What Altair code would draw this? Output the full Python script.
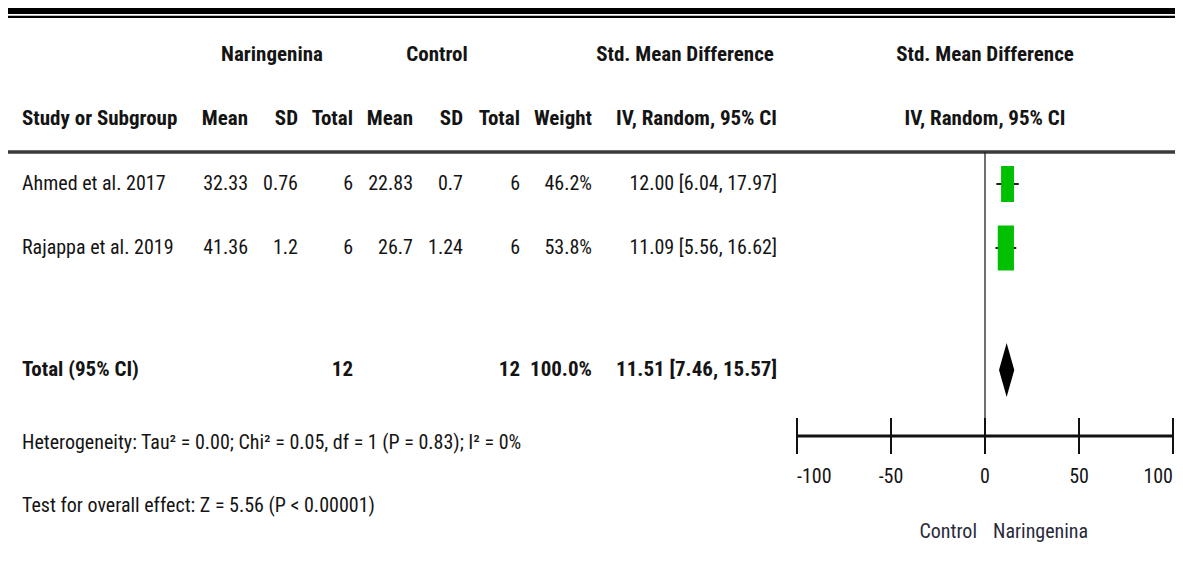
import altair as alt
import pandas as pd

# ---------------- data ----------------
studies = ["Ahmed et al. 2017", "Rajappa et al. 2019"]
nar_mean = [32.33, 41.36]
nar_sd = [0.76, 1.2]
nar_n = [6, 6]
ctl_mean = [22.83, 26.7]
ctl_sd = [0.7, 1.24]
ctl_n = [6, 6]
weights = [46.2, 53.8]
smd = [12.00, 11.09]
ci_low = [6.04, 5.56]
ci_high = [17.97, 16.62]

total_label = "Total (95% CI)"
total_nar_n = 12
total_ctl_n = 12
total_weight = 100.0
total_smd = 11.51
total_low = 7.46
total_high = 15.57

heterogeneity = "Heterogeneity: Tau\u00b2 = 0.00; Chi\u00b2 = 0.05, df = 1 (P = 0.83); I\u00b2 = 0%"
overall = "Test for overall effect: Z = 5.56 (P < 0.00001)"

group_headers = ["Naringenina", "Control", "Std. Mean Difference", "Std. Mean Difference"]
col_headers = ["Study or Subgroup", "Mean", "SD", "Total", "Mean", "SD", "Total", "Weight",
               "IV, Random, 95% CI", "IV, Random, 95% CI"]
axis_ticks = [-100, -50, 0, 50, 100]
favours = ["Control", "Naringenina"]

# ---------------- layout ----------------
W, H = 1167, 545
FONT = "Roboto Condensed, DejaVu Sans Condensed, sans-serif"
FS = 20
FSB = 21
INK = "#141414"

COL = {"study": 14, "n_mean": 240, "n_sd": 290, "n_tot": 345, "c_mean": 405,
       "c_sd": 455, "c_tot": 512, "weight": 584, "ci": 769,
       "g_nar": 264, "g_ctl": 429, "g_smd": 677, "plot_mid": 977}
ROW = {"h1": 47, "h2": 111, "studies": [176, 240], "total": 362, "het": 435, "test": 498}
LINES = {"bar": 2, "thin": 8.8, "header": 144}
FOREST = {"range": [789, 1165], "top": 144, "axis": 428, "tick_half": 18,
          "labels": 469, "fav": 524, "diamond_half": 27}

XPIX = alt.Scale(domain=[0, W], range=[0, W], nice=False, zero=False)
YPIX = alt.Scale(domain=[0, H], range=[0, H], nice=False, zero=False)
XSMD = alt.Scale(domain=[axis_ticks[0], axis_ticks[-1]], range=FOREST["range"], nice=False, zero=False)

# ---------------- text cells ----------------
cells = []  # (text, x, y, align, bold)
hdr_pos = [COL["g_nar"], COL["g_ctl"], COL["g_smd"], COL["plot_mid"]]
for t, x in zip(group_headers, hdr_pos):
    cells.append((t, x, ROW["h1"], "center", True))

col_pos = [("study", "left"), ("n_mean", "right"), ("n_sd", "right"), ("n_tot", "right"),
           ("c_mean", "right"), ("c_sd", "right"), ("c_tot", "right"), ("weight", "right"),
           ("ci", "right"), ("plot_mid", "center")]
for t, (k, a) in zip(col_headers, col_pos):
    cells.append((t, COL[k], ROW["h2"], a, True))

for i, s in enumerate(studies):
    y = ROW["studies"][i]
    vals = [(s, "study", "left"), (str(nar_mean[i]), "n_mean", "right"), (str(nar_sd[i]), "n_sd", "right"),
            (str(nar_n[i]), "n_tot", "right"), (str(ctl_mean[i]), "c_mean", "right"),
            (str(ctl_sd[i]), "c_sd", "right"), (str(ctl_n[i]), "c_tot", "right"),
            (f"{weights[i]:.1f}%", "weight", "right"),
            (f"{smd[i]:.2f} [{ci_low[i]:.2f}, {ci_high[i]:.2f}]", "ci", "right")]
    for t, k, a in vals:
        cells.append((t, COL[k], y, a, False))

tot = [(total_label, "study", "left"), (str(total_nar_n), "n_tot", "right"),
       (str(total_ctl_n), "c_tot", "right"), (f"{total_weight:.1f}%", "weight", "right"),
       (f"{total_smd:.2f} [{total_low:.2f}, {total_high:.2f}]", "ci", "right")]
for t, k, a in tot:
    cells.append((t, COL[k], ROW["total"], a, True))

cells.append((heterogeneity, COL["study"], ROW["het"], "left", False))
cells.append((overall, COL["study"], ROW["test"], "left", False))

cells_df = pd.DataFrame(cells, columns=["t", "x", "y", "align", "bold"])


def text_layer(df, align, bold):
    return alt.Chart(df).mark_text(
        align=align, baseline="middle", font=FONT, fontSize=FSB if bold else FS,
        fontWeight="bold" if bold else "normal", color=INK
    ).encode(
        x=alt.X("x:Q", scale=XPIX, axis=None),
        y=alt.Y("y:Q", scale=YPIX, axis=None),
        text="t:N",
    )


layers = []

# table rules
rules_df = pd.DataFrame([
    {"x": 0, "x2": W, "y": LINES["bar"], "w": 8, "c": "#000000"},
    {"x": 0, "x2": W, "y": LINES["thin"], "w": 2.2, "c": "#000000"},
    {"x": 0, "x2": W, "y": LINES["header"], "w": 3.5, "c": "#3a3a3a"},
])
layers.append(
    alt.Chart(rules_df).mark_rule().encode(
        x=alt.X("x:Q", scale=XPIX, axis=None), x2="x2:Q",
        y=alt.Y("y:Q", scale=YPIX, axis=None),
        size=alt.Size("w:Q", scale=None, legend=None),
        color=alt.Color("c:N", scale=None, legend=None),
    )
)

for (al, bd), grp in cells_df.groupby(["align", "bold"]):
    layers.append(text_layer(grp[["t", "x", "y"]].reset_index(drop=True), al, bool(bd)))

# ---------------- forest plot ----------------
zero_df = pd.DataFrame({"x": [0], "y": [FOREST["top"]], "y2": [FOREST["axis"]]})
layers.append(alt.Chart(zero_df).mark_rule(color="#222", strokeWidth=1.3).encode(
    x=alt.X("x:Q", scale=XSMD, axis=None),
    y=alt.Y("y:Q", scale=YPIX, axis=None), y2="y2:Q"))

axis_df = pd.DataFrame({"x": [axis_ticks[0]], "x2": [axis_ticks[-1]], "y": [FOREST["axis"]]})
layers.append(alt.Chart(axis_df).mark_rule(color="#111", strokeWidth=3).encode(
    x=alt.X("x:Q", scale=XSMD, axis=None), x2="x2:Q",
    y=alt.Y("y:Q", scale=YPIX, axis=None)))

ticks_df = pd.DataFrame({"x": axis_ticks,
                         "y": [FOREST["axis"] - FOREST["tick_half"]] * len(axis_ticks),
                         "y2": [FOREST["axis"] + FOREST["tick_half"]] * len(axis_ticks),
                         "lab": [str(v) for v in axis_ticks],
                         "ly": [FOREST["labels"]] * len(axis_ticks)})
layers.append(alt.Chart(ticks_df).mark_rule(color="#111", strokeWidth=2).encode(
    x=alt.X("x:Q", scale=XSMD, axis=None),
    y=alt.Y("y:Q", scale=YPIX, axis=None), y2="y2:Q"))

# tick labels: outermost ones kept inside the axis span, inner ones centred
n_t = len(axis_ticks)
for sub, al in [(ticks_df.iloc[[0]], "left"), (ticks_df.iloc[1:n_t - 1], "center"),
                (ticks_df.iloc[[n_t - 1]], "right")]:
    layers.append(alt.Chart(sub.reset_index(drop=True)).mark_text(
        align=al, baseline="middle", font=FONT, fontSize=FS, color=INK).encode(
        x=alt.X("x:Q", scale=XSMD, axis=None),
        y=alt.Y("ly:Q", scale=YPIX, axis=None), text="lab:N"))

fav_df = pd.DataFrame({"x": [0], "y": [FOREST["fav"]], "l": [favours[0]], "r": [favours[1]]})
layers.append(alt.Chart(fav_df).mark_text(
    align="right", baseline="middle", font=FONT, fontSize=FS, color="#2a2a3a", dx=-8).encode(
    x=alt.X("x:Q", scale=XSMD, axis=None),
    y=alt.Y("y:Q", scale=YPIX, axis=None), text="l:N"))
layers.append(alt.Chart(fav_df).mark_text(
    align="left", baseline="middle", font=FONT, fontSize=FS, color="#2a2a3a", dx=8).encode(
    x=alt.X("x:Q", scale=XSMD, axis=None),
    y=alt.Y("y:Q", scale=YPIX, axis=None), text="r:N"))

st_df = pd.DataFrame({"study": studies, "smd": smd, "lo": ci_low, "hi": ci_high,
                      "w": weights, "y": ROW["studies"]})
layers.append(alt.Chart(st_df).mark_rule(color="#222", strokeWidth=2).encode(
    x=alt.X("lo:Q", scale=XSMD, axis=None), x2="hi:Q",
    y=alt.Y("y:Q", scale=YPIX, axis=None)))
layers.append(alt.Chart(st_df).mark_point(
    shape="M-0.36,-1H0.36V1H-0.36Z", filled=True, opacity=1, color="#00c000", strokeWidth=0).encode(
    x=alt.X("smd:Q", scale=XSMD, axis=None),
    y=alt.Y("y:Q", scale=YPIX, axis=None),
    size=alt.Size("w:Q", scale=alt.Scale(domain=[min(weights), max(weights)], range=[1296, 2025]),
                  legend=None)))

dh = FOREST["diamond_half"]
c = ROW["total"]
dia_df = pd.DataFrame({"x": [total_low, total_smd, total_high],
                       "y": [c, c - dh, c], "y2": [c, c + dh, c]})
layers.append(alt.Chart(dia_df).mark_area(color="#000000", orient="vertical").encode(
    x=alt.X("x:Q", scale=XSMD, axis=None),
    y=alt.Y("y:Q", scale=YPIX, axis=None), y2="y2:Q"))

chart = alt.layer(*layers).resolve_scale(x="independent").properties(
    width=W, height=H, padding=0, autosize=alt.AutoSizeParams(type="none")
).configure_view(stroke=None)

chart.save("out.html", embed_options={"renderer": "svg", "actions": False})
